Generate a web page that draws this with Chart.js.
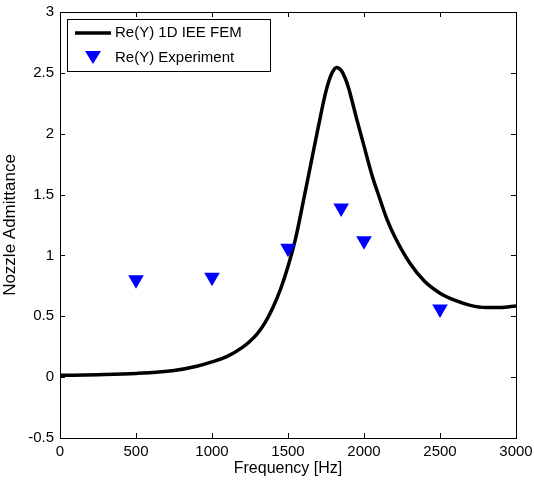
<!DOCTYPE html>
<html>
<head>
<meta charset="utf-8">
<script src="https://cdn.jsdelivr.net/npm/chart.js@4.4.0/dist/chart.umd.min.js"></script>
<style>
  html, body { margin: 0; padding: 0; background: #fff; }
  #wrap { width: 534px; height: 483px; }
</style>
</head>
<body>
<div id="wrap"><canvas id="myChart" width="534" height="483"></canvas></div>
<script>
// FEM curve
const femFreq = [0, 250, 500, 750, 900, 1000, 1100, 1200, 1250, 1300, 1350, 1400, 1450, 1500, 1550, 1600, 1650, 1700, 1750, 1790, 1820, 1850, 1875, 1900, 1950, 2000, 2050, 2100, 2150, 2200, 2300, 2400, 2500, 2600, 2700, 2800, 2900, 3000];
const femVal = [0.015, 0.02, 0.03, 0.055, 0.09, 0.125, 0.17, 0.245, 0.295, 0.36, 0.45, 0.57, 0.72, 0.91, 1.14, 1.44, 1.75, 2.06, 2.35, 2.50, 2.545, 2.52, 2.46, 2.37, 2.13, 1.90, 1.67, 1.48, 1.30, 1.16, 0.94, 0.785, 0.69, 0.63, 0.59, 0.572, 0.572, 0.585];

// experiment points
const expFreq = [500, 1000, 1500, 1850, 2000, 2500];
const expVal = [0.80, 0.82, 1.06, 1.39, 1.12, 0.56];

const xTicks = [0, 500, 1000, 1500, 2000, 2500, 3000];
const yTicks = [-0.5, 0, 0.5, 1, 1.5, 2, 2.5, 3];

const femLabel = "Re(Y) 1D IEE FEM";
const expLabel = "Re(Y) Experiment";

const FONT = "'Liberation Sans', Arial, sans-serif";

function toPoints(xs, ys) {
    let pts = [];
    for (let i = 0; i < xs.length; i++) pts.push({ x: xs[i], y: ys[i] });
    return pts;
}

// box, inward ticks and legend, matlab style
const boxPlugin = {
    id: 'boxPlugin',
    afterDraw(chart) {
        const ctx = chart.ctx;
        const a = chart.chartArea;
        const xs = chart.scales.x, ys = chart.scales.y;
        ctx.save();
        ctx.strokeStyle = '#000';
        ctx.lineWidth = 1;
        ctx.strokeRect(a.left + 0.5, a.top + 0.5, a.right - a.left, a.bottom - a.top);
        ctx.beginPath();
        xTicks.forEach(v => {
            let p = Math.round(xs.getPixelForValue(v)) + 0.5;
            ctx.moveTo(p, a.bottom); ctx.lineTo(p, a.bottom - 5);
            ctx.moveTo(p, a.top); ctx.lineTo(p, a.top + 5);
        });
        yTicks.forEach(v => {
            let p = Math.round(ys.getPixelForValue(v)) + 0.5;
            ctx.moveTo(a.left, p); ctx.lineTo(a.left + 5, p);
            ctx.moveTo(a.right, p); ctx.lineTo(a.right - 5, p);
        });
        ctx.stroke();

        // legend
        const lx = 67, ly = 19, lw = 203, lh = 52;
        ctx.fillStyle = '#fff';
        ctx.fillRect(lx, ly, lw, lh);
        ctx.strokeRect(lx + 0.5, ly + 0.5, lw, lh);
        ctx.lineWidth = 3.5;
        ctx.beginPath();
        ctx.moveTo(75, 33); ctx.lineTo(111, 33);
        ctx.stroke();
        ctx.fillStyle = '#0000ff';
        ctx.beginPath();
        ctx.moveTo(85, 51); ctx.lineTo(101, 51); ctx.lineTo(93, 64);
        ctx.closePath();
        ctx.fill();
        ctx.fillStyle = '#000';
        ctx.font = '15px ' + FONT;
        ctx.textBaseline = 'middle';
        ctx.fillText(femLabel, 115, 33);
        ctx.fillText(expLabel, 115, 58);
        ctx.restore();
    }
};

const ctx = document.getElementById('myChart');

new Chart(ctx, {
    type: 'scatter',
    data: {
        datasets: [{
            label: expLabel,
            data: toPoints(expFreq, expVal),
            pointStyle: 'triangle',
            rotation: 180,
            pointRadius: 9,
            backgroundColor: '#0000ff',
            borderColor: '#0000ff',
            borderWidth: 0,
            showLine: false,
            order: 0
        }, {
            label: femLabel,
            data: toPoints(femFreq, femVal),
            showLine: true,
            borderColor: '#000',
            borderWidth: 3.5,
            pointRadius: 0,
            cubicInterpolationMode: 'monotone',
            order: 1
        }]
    },
    options: {
        responsive: false,
        animation: false,
        devicePixelRatio: 1,
        layout: { padding: { left: 0, top: 12, right: 18, bottom: 0 } },
        plugins: {
            legend: { display: false },
            tooltip: { enabled: false }
        },
        scales: {
            x: {
                type: 'linear',
                min: 0,
                max: 3000,
                grid: { display: false, drawTicks: false },
                border: { display: false },
                ticks: {
                    stepSize: 500,
                    padding: 5,
                    maxRotation: 0,
                    color: '#000',
                    font: { family: FONT, size: 15 },
                    callback: v => String(v)
                },
                title: {
                    display: true,
                    text: 'Frequency [Hz]',
                    color: '#000',
                    font: { family: FONT, size: 16 },
                    padding: { top: 0, bottom: 5 }
                },
                afterFit(scale) {
                    scale.height = 45;
                    scale.paddingLeft = 0;
                    scale.paddingRight = 0;
                }
            },
            y: {
                min: -0.5,
                max: 3,
                grid: { display: false, drawTicks: false },
                border: { display: false },
                ticks: {
                    stepSize: 0.5,
                    padding: 6,
                    color: '#000',
                    font: { family: FONT, size: 15 },
                    callback: v => String(v)
                },
                title: {
                    display: true,
                    text: 'Nozzle Admittance',
                    color: '#000',
                    font: { family: FONT, size: 17 },
                    padding: { top: 0, bottom: 6 }
                },
                afterFit(scale) {
                    scale.width = 60;
                    scale.paddingTop = 0;
                    scale.paddingBottom = 0;
                }
            }
        }
    },
    plugins: [boxPlugin]
});
</script>
</body>
</html>
